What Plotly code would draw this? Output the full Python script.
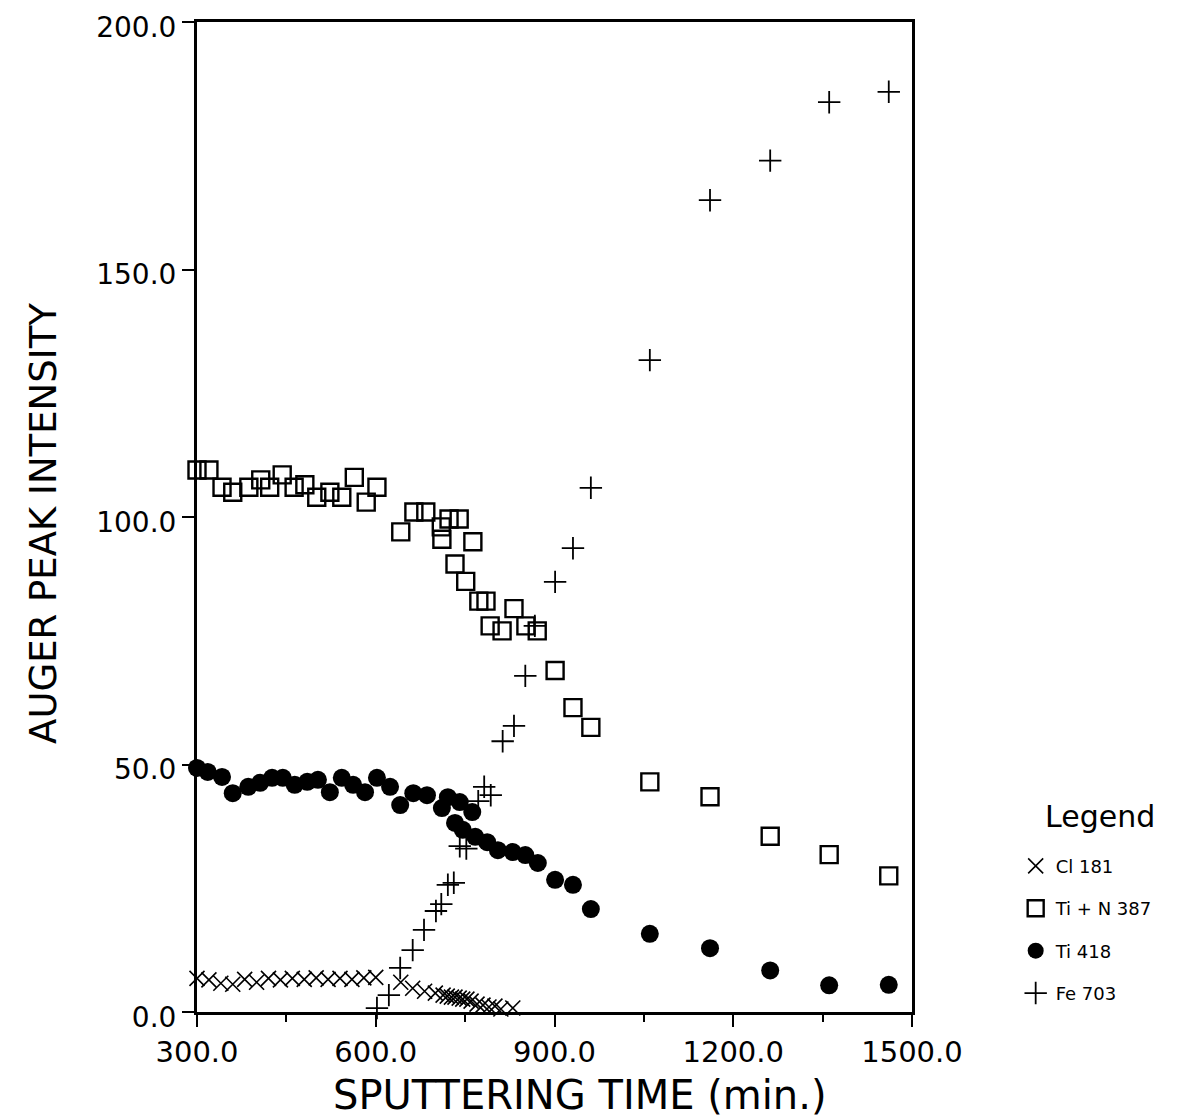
import plotly.graph_objects as go

# Cl 181
cl_t = [300, 320, 340, 360, 380, 400, 420, 440, 460, 480, 500, 520, 540, 560, 580, 600,
        642, 662, 682, 700, 713, 720, 727, 733, 740, 746, 753, 760, 770, 780, 790, 800, 810, 830]
cl_y = [6.8, 6.5, 5.8, 5.6, 6.6, 6.0, 6.8, 6.5, 6.8, 6.6, 6.9, 6.6, 6.8, 6.6, 6.9, 7.0,
        6.0, 4.8, 4.2, 3.8, 3.4, 3.2, 3.0, 3.0, 2.8, 2.6, 2.6, 2.2, 1.6, 1.4, 1.0, 1.2, 0.6, 0.8]

# Ti + N 387
tin_t = [300, 320, 342, 360, 387, 407, 422, 443, 463, 481, 501, 523, 543, 564, 584, 602,
         642, 664, 684, 710, 711, 723, 740, 763, 733, 751, 773, 785, 792, 812, 832, 852, 871,
         901, 931, 961, 1060, 1161, 1262, 1361, 1461]
tin_y = [109.5, 109.5, 106, 105, 106, 107.5, 106, 108.5, 106, 106.5, 104, 105, 104, 108, 103, 106,
         97, 101, 101, 98, 95.5, 99.6, 99.6, 95, 90.5, 87, 83, 83, 78, 77, 81.5, 78, 77,
         69, 61.5, 57.5, 46.5, 43.5, 35.5, 31.8, 27.5]

# Ti 418
ti_t = [300, 318, 342, 360, 386, 406, 426, 444, 464, 485, 503, 523, 543, 562, 582, 602,
        624, 641, 663, 686, 711, 721, 741, 762, 733, 746, 767, 787, 805, 830, 851, 872,
        901, 931, 961, 1060, 1161, 1262, 1361, 1461]
ti_y = [49.3, 48.5, 47.5, 44.2, 45.5, 46.3, 47.3, 47.3, 45.9, 46.5, 46.9, 44.4, 47.3, 45.9, 44.4, 47.3,
        45.5, 41.8, 44.2, 43.8, 41.2, 43.4, 42.4, 40.4, 38.2, 36.8, 35.4, 34.3, 32.7, 32.3, 31.7, 30.1,
        26.7, 25.7, 20.8, 15.8, 12.9, 8.4, 5.4, 5.5]

# Fe 703
fe_t = [602, 622, 641, 662, 681, 701, 710, 721, 731, 741, 752, 772, 782, 793, 813, 832, 851, 867,
        901, 931, 961, 1060, 1161, 1262, 1361, 1461]
fe_y = [0.8, 3.4, 8.9, 12.5, 16.6, 20.4, 21.8, 25.7, 26.1, 33.5, 33.0, 42.6, 45.5, 43.8, 54.7, 57.8, 67.9, 78,
        86.9, 93.7, 105.9, 131.7, 164, 172, 183.8, 185.9]

x_ticks = [300, 600, 900, 1200, 1500]
x_minor = [450, 750, 1050, 1350]
y_ticks = [0, 50, 100, 150, 200]

FONT = "DejaVu Sans"

fig = go.Figure()
fig.add_trace(go.Scatter(x=cl_t, y=cl_y, mode="markers", name="Cl 181", legendgroup="a",
                         marker=dict(symbol="x-thin-open", size=15, color="black",
                                     line=dict(width=1.6, color="black")), cliponaxis=False))
fig.add_trace(go.Scatter(x=tin_t, y=tin_y, mode="markers", name="Ti + N 387", legendgroup="b",
                         marker=dict(symbol="square-open", size=17, color="black",
                                     line=dict(width=2.4, color="black")), cliponaxis=False))
fig.add_trace(go.Scatter(x=ti_t, y=ti_y, mode="markers", name="Ti 418", legendgroup="c",
                         marker=dict(symbol="circle", size=18, color="black",
                                     line=dict(width=0)), cliponaxis=False))
fig.add_trace(go.Scatter(x=fe_t, y=fe_y, mode="markers", name="Fe 703", legendgroup="d",
                         marker=dict(symbol="cross-thin-open", size=16, color="black",
                                     line=dict(width=1.8, color="black")), cliponaxis=False))

fig.add_annotation(text="Legend", xref="paper", yref="paper", x=1.263, y=0.197,
                   xanchor="center", yanchor="middle", showarrow=False,
                   font=dict(size=30, family=FONT, color="black"))
fig.add_annotation(text="SPUTTERING TIME (min.)", xref="paper", yref="paper", x=0.536, y=-0.084,
                   xanchor="center", yanchor="middle", showarrow=False,
                   font=dict(size=40, family=FONT, color="black"))
fig.add_annotation(text="AUGER PEAK INTENSITY", xref="paper", yref="paper", x=-0.214, y=0.494,
                   xanchor="center", yanchor="middle", showarrow=False, textangle=-90,
                   font=dict(size=37, family=FONT, color="black"))

fig.update_layout(
    width=1197, height=1120,
    margin=dict(l=189, r=293, t=14, b=116),
    paper_bgcolor="white", plot_bgcolor="white",
    font=dict(family=FONT, color="black"),
    showlegend=True,
    legend=dict(
        x=1.145, y=0.166, xanchor="left", yanchor="top",
        font=dict(size=18, family=FONT),
        tracegroupgap=16, bgcolor="rgba(0,0,0,0)",
    ),
    xaxis=dict(
        range=[300, 1500], tickvals=x_ticks, ticktext=[f"{v:.1f}" for v in x_ticks],
        showgrid=False, zeroline=False, showline=True, linecolor="black", linewidth=3, mirror=True,
        ticks="outside", ticklen=12, tickwidth=2, tickcolor="black",
        tickfont=dict(size=29, family=FONT), ticklabeloverflow="allow",
        minor=dict(tickvals=x_minor, ticks="outside", ticklen=7, tickwidth=2, tickcolor="black"),
        automargin=False,
    ),
    yaxis=dict(
        range=[0, 200], tickvals=y_ticks, ticktext=[f"{v:.1f}" for v in y_ticks],
        showgrid=False, zeroline=False, showline=True, linecolor="black", linewidth=3, mirror=True,
        ticks="outside", ticklen=12, tickwidth=2, tickcolor="black",
        tickfont=dict(size=28, family=FONT), ticklabeloverflow="allow", ticklabelshift=5,
        automargin=False,
    ),
)

fig.write_html("out.html")
